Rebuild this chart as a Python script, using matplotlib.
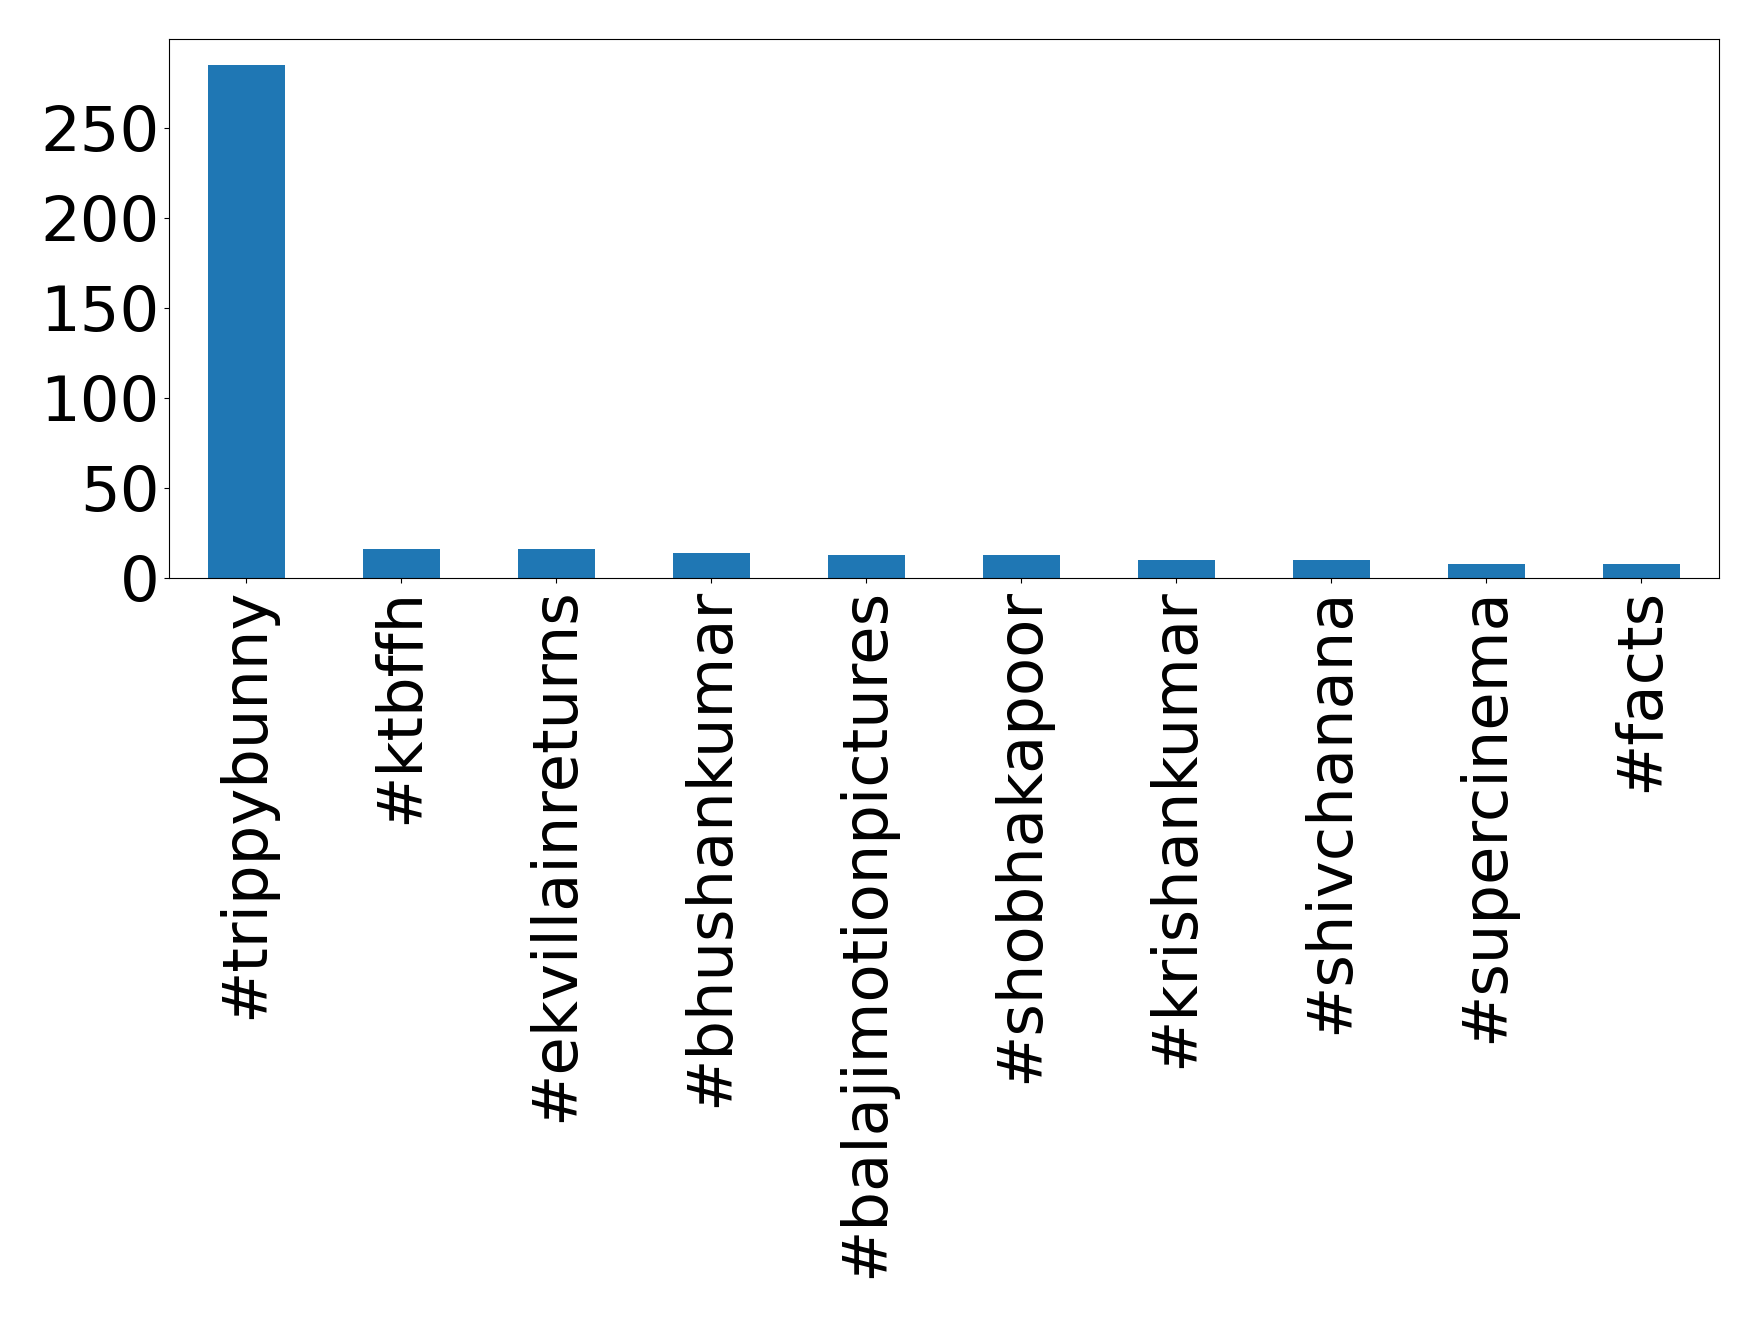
#! -*- coding: utf-8 -*-

#---------------------------------
# モジュールのインポート
#---------------------------------
import matplotlib
matplotlib.use('Agg')
import pandas as pd
import matplotlib.pyplot as plt

#---------------------------------
# データ
#---------------------------------
hashtags = ['#trippybunny', '#ktbffh', '#ekvillainreturns', '#bhushankumar',
            '#balajimotionpictures', '#shobhakapoor', '#krishankumar',
            '#shivchanana', '#supercinema', '#facts']
counts = [285, 16, 16, 14, 13, 13, 10, 10, 8, 8]

#---------------------------------
# メイン処理
#---------------------------------
def main():
	plt.rcParams['font.size'] = 45

	fig = plt.figure(figsize=(17.58, 13.18), dpi=100)
	ax = fig.add_axes([0.0961, 0.5615, 0.8817, 0.409])

	s = pd.Series(counts, index=hashtags)
	s.plot.bar(ax=ax, color='#1f77b4')

	ax.set_yticks([0, 50, 100, 150, 200, 250])
	ax.tick_params(axis='x', labelrotation=90)

	fig.savefig('out.png', dpi=100)
	plt.close(fig)

if __name__ == '__main__':
	main()
